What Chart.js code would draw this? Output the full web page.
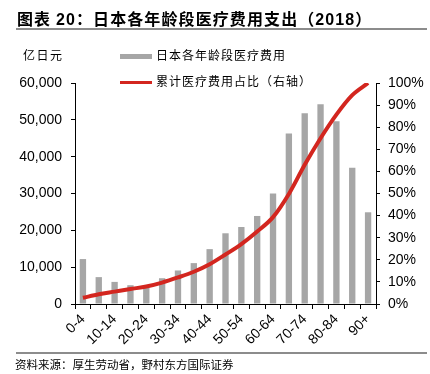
<!DOCTYPE html>
<html>
<head>
<meta charset="utf-8">
<script src="https://cdn.jsdelivr.net/npm/chart.js@4"></script>
<style>
  body { margin: 0; width: 430px; height: 374px; background: #fff; position: relative; overflow: hidden;
         font-family: "Noto Sans CJK SC", sans-serif; }
  #title { position: absolute; left: 17px; top: 6px; font-size: 16px; font-weight: bold; color: #000; white-space: nowrap; letter-spacing: 1.1px; }
  #title .num { font-family: "Liberation Sans", Arial, sans-serif; }
  .rule { position: absolute; left: 16px; width: 411px; height: 2px; background: #8c8c8c; }
  #unit { position: absolute; left: 23px; top: 46px; font-size: 12px; letter-spacing: 1.5px; color: #000; }
  .leg { position: absolute; left: 120px; font-size: 12px; letter-spacing: 1px; color: #000; white-space: nowrap; }
  .leg i { display: inline-block; width: 32px; vertical-align: middle; margin-right: 4px; }
  #source { position: absolute; left: 15px; top: 356px; font-size: 11.5px; color: #000; white-space: nowrap; }
  #wrap { position: absolute; left: 0; top: 0; width: 430px; height: 374px; }
</style>
</head>
<body>
<div id="wrap"><canvas id="chart" width="430" height="374"></canvas></div>
<div id="title">图表 <span class="num">20</span>：日本各年龄段医疗费用支出（<span class="num">2018</span>）</div>
<div class="rule" style="top:28px"></div>
<div id="unit">亿日元</div>
<div class="leg" style="top:46px"><i style="height:5px;background:#a6a6a6"></i>日本各年龄段医疗费用</div>
<div class="leg" style="top:72px"><i style="height:3px;background:#d3261f"></i>累计医疗费用占比（右轴）</div>
<div class="rule" style="top:352px"></div>
<div id="source">资料来源：厚生劳动省，野村东方国际证券</div>
<script>
const ageGroups = ['0-4', '5-9', '10-14', '15-19', '20-24', '25-29', '30-34', '35-39', '40-44', '45-49',
                   '50-54', '55-59', '60-64', '65-69', '70-74', '75-79', '80-84', '85-89', '90+'];
// 亿日元
const medicalCost = [12200, 7300, 6000, 5100, 4800, 7000, 9100, 11100, 14900, 19200,
                     20900, 23900, 30000, 46300, 51800, 54200, 49600, 37000, 24900];
// 累计占比 %
const cumulativeShare = [2.8, 4.4, 5.6, 6.8, 7.9, 9.7, 12.0, 14.6, 18.0, 22.4,
                         27.1, 32.8, 39.3, 49.8, 63.0, 75.0, 85.7, 94.5, 100];

const tickFont = { family: '"Liberation Sans", Arial, sans-serif', size: 14 };

new Chart(document.getElementById('chart'), {
    type: 'bar',
    data: {
        labels: ageGroups,
        datasets: [
            {
                type: 'line',
                label: '累计医疗费用占比（右轴）',
                data: cumulativeShare,
                yAxisID: 'y1',
                borderColor: '#d3261f',
                borderWidth: 4,
                pointRadius: 0,
                cubicInterpolationMode: 'monotone',
                order: 0
            },
            {
                label: '日本各年龄段医疗费用',
                data: medicalCost,
                yAxisID: 'y',
                backgroundColor: '#a6a6a6',
                barPercentage: 0.4,
                categoryPercentage: 1,
                order: 1
            }
        ]
    },
    options: {
        responsive: false,
        animation: false,
        devicePixelRatio: 1,
        layout: { padding: { top: 83, left: 0, right: 0, bottom: 0 } },
        plugins: {
            legend: { display: false },
            tooltip: { enabled: false }
        },
        scales: {
            x: {
                grid: { drawOnChartArea: false, drawTicks: true, tickLength: 5, color: '#000' },
                border: { color: '#000' },
                ticks: {
                    color: '#000',
                    font: tickFont,
                    minRotation: 45,
                    maxRotation: 45,
                    autoSkip: false,
                    padding: 2,
                    callback: function (v, i) { return i % 2 === 0 ? ageGroups[i] : ''; }
                },
                afterFit: function (s) { s.height = 374 - 304; }
            },
            y: {
                position: 'left',
                min: 0,
                max: 60000,
                grid: { drawOnChartArea: false, drawTicks: true, tickLength: 4, color: '#000' },
                border: { color: '#000' },
                ticks: {
                    stepSize: 10000,
                    color: '#000',
                    font: tickFont,
                    padding: 9,
                    callback: function (v) { return v.toLocaleString('en-US'); }
                },
                afterFit: function (s) { s.width = 75; }
            },
            y1: {
                position: 'right',
                min: 0,
                max: 100,
                grid: { drawOnChartArea: false, drawTicks: true, tickLength: 4, color: '#000' },
                border: { color: '#000' },
                ticks: {
                    stepSize: 10,
                    color: '#000',
                    font: tickFont,
                    padding: 8,
                    callback: function (v) { return v + '%'; }
                },
                afterFit: function (s) { s.width = 430 - 376; }
            }
        }
    }
});
</script>
</body>
</html>
